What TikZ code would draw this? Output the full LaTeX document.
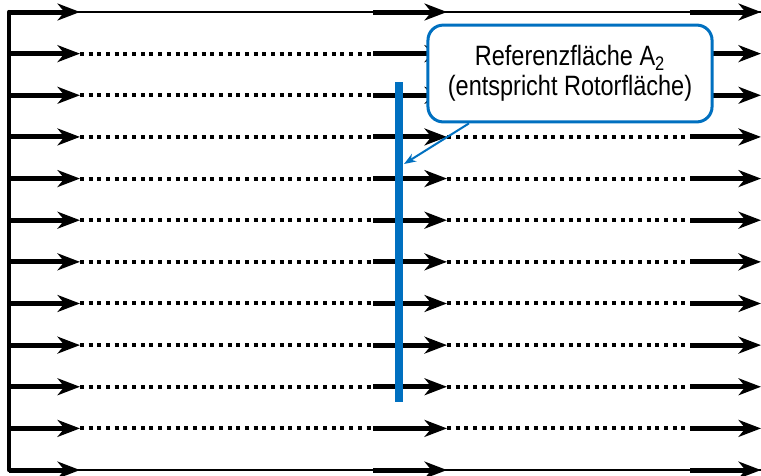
\documentclass[tikz,border=0pt]{standalone}
\usepackage{fontspec}
\setmainfont{Liberation Sans}
\newfontfamily\calloutfont[FakeStretch=0.84]{Liberation Sans}
\usetikzlibrary{arrows.meta,calc}
\definecolor{refblue}{RGB}{0,112,192}
\tikzset{
  flowarrow/.style={line width=0.125cm,-{Stealth[length=0.56cm,width=0.42cm,inset=0.17cm]}},
  flowthin/.style={line width=0.07cm},
  flowdots/.style={line width=0.1cm,dash pattern=on 0.1cm off 0.117cm},
  wall/.style={line width=0.105cm,line cap=round},
  rotor/.style={draw=refblue,line width=0.19cm},
  callout/.style={draw=refblue,line width=0.075cm,fill=white,rounded corners=0.38cm,
    minimum width=7.1cm,minimum height=2.42cm,align=center,
    font=\calloutfont\fontsize{19.9}{21.4}\selectfont},
  pointer/.style={draw=refblue,line width=0.05cm,-{Stealth[length=0.3cm,width=0.22cm]}}
}
\begin{document}
\begin{tikzpicture}[x=0.025cm,y=-0.025cm]
\useasboundingbox (0,0) rectangle (761,475);

% stream lines, one row each
\foreach \i in {1,...,12} {
  \pgfmathsetmacro\yy{12+(\i-1)*41.64}
  \coordinate (w\i) at (9,\yy);
  \coordinate (a\i) at (80,\yy);
  \coordinate (b\i) at (373,\yy);
  \coordinate (c\i) at (447,\yy);
  \coordinate (d\i) at (690,\yy);
  \coordinate (e\i) at (761,\yy);
}

\draw[wall] (w1) -- (w12);

\draw[flowthin] (w1) -- (e1);
\draw[flowthin] (w12) -- (e12);
\foreach \i in {2,...,11} {
  \draw[flowdots] (a\i) -- (b\i);
  \draw[flowdots] (c\i) -- (d\i);
}
\foreach \i in {1,...,12} {
  \draw[flowarrow] (w\i) -- (a\i);
  \draw[flowarrow] (b\i) -- (c\i);
  \draw[flowarrow] (d\i) -- (e\i);
}

% Rotorebene
\coordinate (rtop) at (399,82);
\coordinate (rbot) at (399,402);
\coordinate (hit) at (404,164);
\draw[rotor] (rtop) -- (rbot);

\node[callout] (ref) at (570,73.5) {Referenzfläche A\textsubscript{2}\\(entspricht Rotorfläche)};
\draw[pointer] ($(ref.south west)!0.148!(ref.south east)$) -- (hit);
\end{tikzpicture}
\end{document}
